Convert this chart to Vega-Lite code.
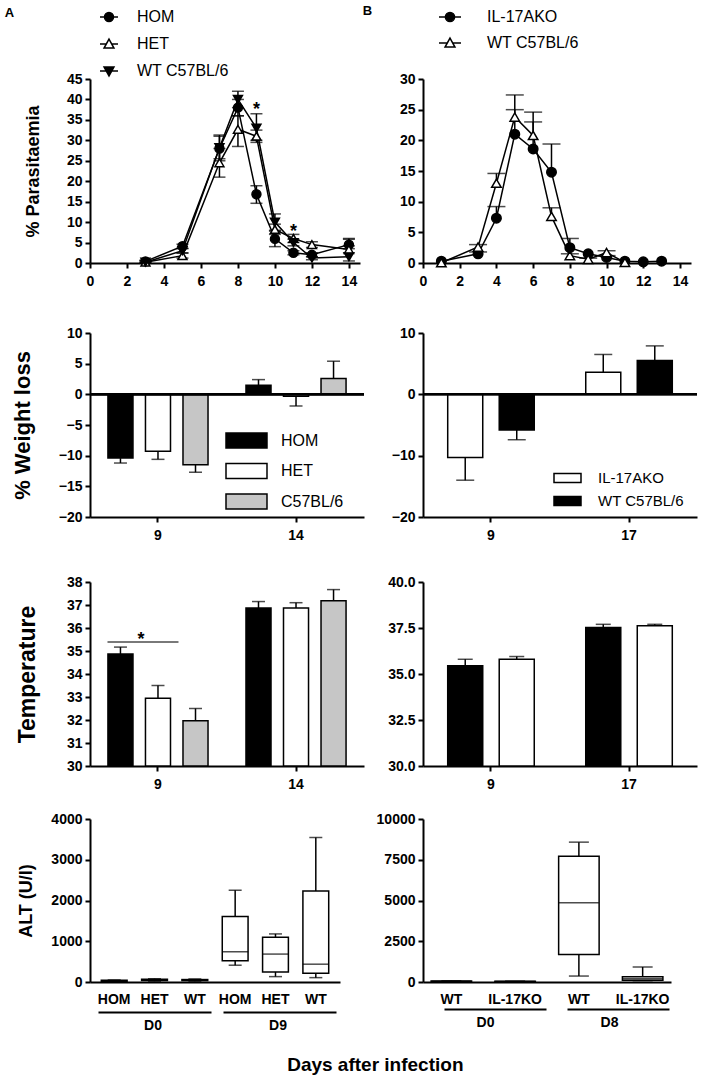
{
  "$schema": "https://vega.github.io/schema/vega-lite/v6.json",
  "padding": {"left": 4, "top": 5, "right": 5, "bottom": 5},
  "title": {"text": "Days after infection", "orient": "bottom", "anchor": "middle", "fontSize": 19, "fontWeight": "bold", "offset": 24, "dx": 24, "color": "black"},
  "datasets": {
    "para_a": [
      {"day": 3, "g": "HOM", "v": 0.4, "lo": 0.1, "hi": 0.7},
      {"day": 5, "g": "HOM", "v": 4.1, "lo": 3.6, "hi": 4.6},
      {"day": 7, "g": "HOM", "v": 28, "lo": 25, "hi": 31.3},
      {"day": 8, "g": "HOM", "v": 38, "lo": 36, "hi": 40},
      {"day": 9, "g": "HOM", "v": 16.8, "lo": 14.6, "hi": 18.9},
      {"day": 10, "g": "HOM", "v": 5.9, "lo": 4, "hi": 7.8},
      {"day": 11, "g": "HOM", "v": 2.5, "lo": 2, "hi": 3},
      {"day": 12, "g": "HOM", "v": 2, "lo": 1.5, "hi": 2.5},
      {"day": 14, "g": "HOM", "v": 4.5, "lo": 3.5, "hi": 5.8},
      {"day": 3, "g": "HET", "v": 0.2, "lo": 0, "hi": 0.5},
      {"day": 5, "g": "HET", "v": 1.8, "lo": 1.2, "hi": 2.4},
      {"day": 7, "g": "HET", "v": 24.5, "lo": 21, "hi": 28},
      {"day": 8, "g": "HET", "v": 32.7, "lo": 28.5, "hi": 36},
      {"day": 9, "g": "HET", "v": 31, "lo": 29.5, "hi": 32.5},
      {"day": 10, "g": "HET", "v": 8.2, "lo": 7, "hi": 9.5},
      {"day": 11, "g": "HET", "v": 6, "lo": 5, "hi": 7},
      {"day": 12, "g": "HET", "v": 4.5, "lo": 3.8, "hi": 5.2},
      {"day": 14, "g": "HET", "v": 3.3, "lo": 2.5, "hi": 4.2},
      {"day": 3, "g": "WT C57BL/6", "v": 0.2, "lo": 0, "hi": 0.5},
      {"day": 5, "g": "WT C57BL/6", "v": 3, "lo": 2.5, "hi": 3.5},
      {"day": 7, "g": "WT C57BL/6", "v": 28.2, "lo": 25.5, "hi": 31},
      {"day": 8, "g": "WT C57BL/6", "v": 40, "lo": 38, "hi": 42},
      {"day": 9, "g": "WT C57BL/6", "v": 33, "lo": 30, "hi": 36.5},
      {"day": 10, "g": "WT C57BL/6", "v": 10, "lo": 8, "hi": 12},
      {"day": 11, "g": "WT C57BL/6", "v": 5, "lo": 4.2, "hi": 5.8},
      {"day": 12, "g": "WT C57BL/6", "v": 1.2, "lo": 0.8, "hi": 1.6},
      {"day": 14, "g": "WT C57BL/6", "v": 1.5, "lo": 0.5, "hi": 6}
    ],
    "para_b": [
      {"day": 1, "g": "IL-17AKO", "v": 0.3, "hi": 0.3},
      {"day": 3, "g": "IL-17AKO", "v": 1.5, "hi": 1.8},
      {"day": 4, "g": "IL-17AKO", "v": 7.3, "hi": 9.2},
      {"day": 5, "g": "IL-17AKO", "v": 21, "hi": 25},
      {"day": 6, "g": "IL-17AKO", "v": 18.6, "hi": 23},
      {"day": 7, "g": "IL-17AKO", "v": 14.8, "hi": 19.4},
      {"day": 8, "g": "IL-17AKO", "v": 2.5, "hi": 4},
      {"day": 9, "g": "IL-17AKO", "v": 1.5, "hi": 1.5},
      {"day": 10, "g": "IL-17AKO", "v": 0.9, "hi": 1.2},
      {"day": 11, "g": "IL-17AKO", "v": 0.3, "hi": 0.3},
      {"day": 12, "g": "IL-17AKO", "v": 0.2, "hi": 0.2},
      {"day": 13, "g": "IL-17AKO", "v": 0.3, "hi": 0.3},
      {"day": 1, "g": "WT C57BL/6", "v": 0.05, "hi": 0.05},
      {"day": 3, "g": "WT C57BL/6", "v": 2.6, "hi": 3},
      {"day": 4, "g": "WT C57BL/6", "v": 13, "hi": 14.6},
      {"day": 5, "g": "WT C57BL/6", "v": 23.8, "hi": 27.4},
      {"day": 6, "g": "WT C57BL/6", "v": 20.8, "hi": 24.6},
      {"day": 7, "g": "WT C57BL/6", "v": 7.6, "hi": 9},
      {"day": 8, "g": "WT C57BL/6", "v": 1.2, "hi": 1.5},
      {"day": 9, "g": "WT C57BL/6", "v": 0.6, "hi": 0.8},
      {"day": 10, "g": "WT C57BL/6", "v": 1.7, "hi": 2},
      {"day": 11, "g": "WT C57BL/6", "v": 0.1, "hi": 0.1}
    ],
    "star_a": [{"day": 9, "v": 38.6}, {"day": 11, "v": 8.9}],
    "wl_a": [
      {"day": "9", "g": "HOM", "v": -10.4, "e": -11.2},
      {"day": "9", "g": "HET", "v": -9.3, "e": -10.6},
      {"day": "9", "g": "C57BL/6", "v": -11.5, "e": -12.7},
      {"day": "14", "g": "HOM", "v": 1.5, "e": 2.4},
      {"day": "14", "g": "HET", "v": -0.3, "e": -1.9},
      {"day": "14", "g": "C57BL/6", "v": 2.6, "e": 5.4}
    ],
    "wl_b": [
      {"day": "9", "g": "IL-17AKO", "v": -10.3, "e": -14.0},
      {"day": "9", "g": "WT C57BL/6", "v": -5.8, "e": -7.4},
      {"day": "17", "g": "IL-17AKO", "v": 3.6, "e": 6.5},
      {"day": "17", "g": "WT C57BL/6", "v": 5.5, "e": 7.9}
    ],
    "temp_a": [
      {"day": "9", "g": "HOM", "v": 34.87, "e": 35.17},
      {"day": "9", "g": "HET", "v": 32.95, "e": 33.5},
      {"day": "9", "g": "C57BL/6", "v": 31.97, "e": 32.5},
      {"day": "14", "g": "HOM", "v": 36.87, "e": 37.15},
      {"day": "14", "g": "HET", "v": 36.87, "e": 37.1},
      {"day": "14", "g": "C57BL/6", "v": 37.18, "e": 37.67}
    ],
    "sig_a": [{"day": "9", "v": 35.39}],
    "temp_b": [
      {"day": "9", "g": "WT C57BL/6", "v": 35.45, "e": 35.8},
      {"day": "9", "g": "IL-17AKO", "v": 35.8, "e": 35.95},
      {"day": "17", "g": "WT C57BL/6", "v": 37.53, "e": 37.7},
      {"day": "17", "g": "IL-17AKO", "v": 37.62, "e": 37.7}
    ],
    "alt_a": [
      {"box": "D0 HOM", "day": "D0", "min": 10, "q1": 20, "med": 30, "q3": 40, "max": 50},
      {"box": "D0 HET", "day": "D0", "min": 20, "q1": 35, "med": 50, "q3": 65, "max": 80},
      {"box": "D0 WT", "day": "D0", "min": 20, "q1": 35, "med": 45, "q3": 60, "max": 75},
      {"box": "D9 HOM", "day": "D9", "min": 412, "q1": 520, "med": 742, "q3": 1608, "max": 2252},
      {"box": "D9 HET", "day": "D9", "min": 132, "q1": 247, "med": 685, "q3": 1097, "max": 1180},
      {"box": "D9 WT", "day": "D9", "min": 107, "q1": 214, "med": 437, "q3": 2235, "max": 3546}
    ],
    "alt_b": [
      {"box": "D0 WT", "day": "D0", "min": 20, "q1": 30, "med": 45, "q3": 60, "max": 75},
      {"box": "D0 IL-17KO", "day": "D0", "min": 15, "q1": 25, "med": 35, "q3": 45, "max": 55},
      {"box": "D8 WT", "day": "D8", "min": 365, "q1": 1684, "med": 4868, "q3": 7708, "max": 8580},
      {"box": "D8 IL-17KO", "day": "D8", "min": 80, "q1": 110, "med": 200, "q3": 320, "max": 920}
    ]
  },
  "columns": 2,
  "align": "each",
  "spacing": {"row": 21, "column": -3},
  "resolve": {
    "scale": {"fill": "independent", "shape": "independent", "stroke": "independent", "xOffset": "independent"},
    "legend": {"fill": "independent", "shape": "independent", "stroke": "independent"}
  },
  "concat": [
    {
      "width": 270,
      "height": 184,
      "title": {"text": "A", "orient": "left", "anchor": "end", "angle": 0, "align": "right", "baseline": "top", "offset": 1, "fontSize": 13, "fontWeight": "bold", "color": "black"},
      "data": {"name": "para_a"},
      "layer": [
        {
          "transform": [{"filter": "datum.day < 0"}],
          "mark": {"type": "point", "filled": true, "opacity": 1, "strokeWidth": 1.5},
          "encoding": {
            "shape": {
              "field": "g", "type": "nominal",
              "scale": {"domain": ["HOM", "HET", "WT C57BL/6"], "range": ["M-1,0H-0.5M0.5,0H1M0.5,0A0.5,0.5,0,1,1,-0.5,0A0.5,0.5,0,1,1,0.5,0Z", "M-1,0H-0.3M0.3,0H1M0,-0.55L0.55,0.45L-0.55,0.45Z", "M-1,0H-0.3M0.3,0H1M-0.55,-0.45L0.55,-0.45L0,0.55Z"]},
              "legend": {"orient": "none", "legendX": 9, "legendY": -72, "title": null, "padding": 0, "symbolSize": 324, "symbolStrokeWidth": 1.5, "labelFontSize": 16, "labelFontWeight": "normal", "labelColor": "black", "labelOffset": 18, "rowPadding": 9}
            },
            "fill": {
              "field": "g", "type": "nominal",
              "scale": {"domain": ["HOM", "HET", "WT C57BL/6"], "range": ["black", "white", "black"]},
              "legend": {"orient": "none", "legendX": 9, "legendY": -72, "title": null, "padding": 0, "symbolSize": 324, "symbolStrokeWidth": 1.5, "labelFontSize": 16, "labelFontWeight": "normal", "labelColor": "black", "labelOffset": 18, "rowPadding": 9}
            },
            "stroke": {
              "field": "g", "type": "nominal",
              "scale": {"domain": ["HOM", "HET", "WT C57BL/6"], "range": ["black", "black", "black"]},
              "legend": {"orient": "none", "legendX": 9, "legendY": -72, "title": null, "padding": 0, "symbolSize": 324, "symbolStrokeWidth": 1.5, "labelFontSize": 16, "labelFontWeight": "normal", "labelColor": "black", "labelOffset": 18, "rowPadding": 9}
            }
          }
        },
        {
          "mark": {"type": "line", "color": "black", "strokeWidth": 1.5},
          "encoding": {
            "x": {"field": "day", "type": "quantitative", "scale": {"domain": [0, 14.6], "nice": false}, "axis": {"values": [0, 2, 4, 6, 8, 10, 12, 14], "tickCount": 20, "labelOverlap": false, "title": " ", "titleFontSize": 10, "titlePadding": 7, "labelPadding": 6}},
            "y": {"field": "v", "type": "quantitative", "scale": {"domain": [0, 45]}, "axis": {"values": [0, 5, 10, 15, 20, 25, 30, 35, 40, 45], "tickCount": 20, "labelOverlap": false, "title": "% Parasitaemia", "titleFontSize": 18, "titlePadding": 24}},
            "detail": {"field": "g"}
          }
        },
        {
          "mark": {"type": "rule", "color": "black", "strokeWidth": 1.5},
          "encoding": {
            "x": {"field": "day", "type": "quantitative"},
            "y": {"field": "lo", "type": "quantitative"},
            "y2": {"field": "hi"}
          }
        },
        {
          "mark": {"type": "tick", "orient": "horizontal", "size": 12, "thickness": 1.5, "color": "black"},
          "encoding": {
            "x": {"field": "day", "type": "quantitative"},
            "y": {"field": "hi", "type": "quantitative"}
          }
        },
        {
          "mark": {"type": "tick", "orient": "horizontal", "size": 12, "thickness": 1.5, "color": "black"},
          "encoding": {
            "x": {"field": "day", "type": "quantitative"},
            "y": {"field": "lo", "type": "quantitative"}
          }
        },
        {
          "mark": {"type": "point", "filled": true, "size": 80, "stroke": "black", "strokeWidth": 1.5, "opacity": 1},
          "encoding": {
            "x": {"field": "day", "type": "quantitative"},
            "y": {"field": "v", "type": "quantitative"},
            "shape": {"field": "g", "type": "nominal", "scale": {"domain": ["HOM", "HET", "WT C57BL/6"], "range": ["circle", "triangle-up", "triangle-down"]}, "legend": null},
            "fill": {"condition": {"test": "datum.g === 'HET'", "value": "white"}, "value": "black"}
          }
        },
        {
          "data": {"name": "star_a"},
          "mark": {"type": "text", "text": "*", "fontSize": 18, "fontWeight": "bold", "dy": 5, "color": "black"},
          "encoding": {
            "x": {"field": "day", "type": "quantitative"},
            "y": {"field": "v", "type": "quantitative"}
          }
        }
      ],
      "resolve": {"scale": {"shape": "independent", "fill": "independent", "stroke": "independent"}}
    },
    {
      "width": 268,
      "height": 184,
      "title": {"text": "B", "orient": "left", "anchor": "end", "angle": 0, "align": "right", "baseline": "top", "offset": 18, "fontSize": 13, "fontWeight": "bold", "color": "black"},
      "data": {"name": "para_b"},
      "layer": [
        {
          "transform": [{"filter": "datum.day < 0"}],
          "mark": {"type": "point", "filled": true, "opacity": 1, "strokeWidth": 1.5},
          "encoding": {
            "shape": {
              "field": "g", "type": "nominal",
              "scale": {"domain": ["IL-17AKO", "WT C57BL/6"], "range": ["M-1,0H-0.42M0.42,0H1M0.42,0A0.42,0.42,0,1,1,-0.42,0A0.42,0.42,0,1,1,0.42,0Z", "M-1,0H-0.25M0.25,0H1M0,-0.45L0.45,0.37L-0.45,0.37Z"]},
              "legend": {"orient": "none", "legendX": 15, "legendY": -74, "title": null, "padding": 0, "symbolSize": 484, "symbolStrokeWidth": 1.5, "labelFontSize": 16, "labelFontWeight": "normal", "labelColor": "black", "labelOffset": 25, "rowPadding": 6}
            },
            "fill": {
              "field": "g", "type": "nominal",
              "scale": {"domain": ["IL-17AKO", "WT C57BL/6"], "range": ["black", "white"]},
              "legend": {"orient": "none", "legendX": 15, "legendY": -74, "title": null, "padding": 0, "symbolSize": 484, "symbolStrokeWidth": 1.5, "labelFontSize": 16, "labelFontWeight": "normal", "labelColor": "black", "labelOffset": 25, "rowPadding": 6}
            },
            "stroke": {
              "field": "g", "type": "nominal",
              "scale": {"domain": ["IL-17AKO", "WT C57BL/6"], "range": ["black", "black"]},
              "legend": {"orient": "none", "legendX": 15, "legendY": -74, "title": null, "padding": 0, "symbolSize": 484, "symbolStrokeWidth": 1.5, "labelFontSize": 16, "labelFontWeight": "normal", "labelColor": "black", "labelOffset": 25, "rowPadding": 6}
            }
          }
        },
        {
          "mark": {"type": "line", "color": "black", "strokeWidth": 1.5},
          "encoding": {
            "x": {"field": "day", "type": "quantitative", "scale": {"domain": [0, 14.6], "nice": false}, "axis": {"values": [0, 2, 4, 6, 8, 10, 12, 14], "tickCount": 20, "labelOverlap": false, "title": " ", "titleFontSize": 10, "titlePadding": 7, "labelPadding": 6}},
            "y": {"field": "v", "type": "quantitative", "scale": {"domain": [0, 30]}, "axis": {"values": [0, 5, 10, 15, 20, 25, 30], "tickCount": 20, "labelOverlap": false, "title": null}},
            "detail": {"field": "g"}
          }
        },
        {
          "transform": [{"filter": "datum.hi > datum.v"}],
          "mark": {"type": "rule", "color": "black", "strokeWidth": 1.5},
          "encoding": {
            "x": {"field": "day", "type": "quantitative"},
            "y": {"field": "v", "type": "quantitative"},
            "y2": {"field": "hi"}
          }
        },
        {
          "transform": [{"filter": "datum.hi > datum.v"}],
          "mark": {"type": "tick", "orient": "horizontal", "size": 18, "thickness": 1.5, "color": "black"},
          "encoding": {
            "x": {"field": "day", "type": "quantitative"},
            "y": {"field": "hi", "type": "quantitative"}
          }
        },
        {
          "mark": {"type": "point", "filled": true, "size": 90, "stroke": "black", "strokeWidth": 1.5, "opacity": 1},
          "encoding": {
            "x": {"field": "day", "type": "quantitative"},
            "y": {"field": "v", "type": "quantitative"},
            "shape": {"field": "g", "type": "nominal", "scale": {"domain": ["IL-17AKO", "WT C57BL/6"], "range": ["circle", "triangle-up"]}, "legend": null},
            "fill": {"condition": {"test": "datum.g === 'WT C57BL/6'", "value": "white"}, "value": "black"}
          }
        }
      ],
      "resolve": {"scale": {"shape": "independent", "fill": "independent", "stroke": "independent"}}
    },
    {
      "width": 274,
      "height": 184,
      "data": {"name": "wl_a"},
      "layer": [
        {
          "mark": {"type": "rule", "color": "black", "strokeWidth": 1.5},
          "encoding": {
            "x": {"field": "day", "type": "nominal", "sort": ["9", "14"], "scale": {"paddingInner": 0.275, "paddingOuter": 0.13}, "axis": {"title": " ", "titleFontSize": 10, "titlePadding": 2, "labelAngle": 0, "labelPadding": 6}},
            "xOffset": {"field": "g", "type": "nominal", "sort": ["HOM", "HET", "C57BL/6"], "scale": {"paddingInner": 0.333, "paddingOuter": 0}},
            "y": {"field": "v", "type": "quantitative", "scale": {"domain": [-20, 10]}, "axis": {"values": [-20, -15, -10, -5, 0, 5, 10], "tickCount": 20, "labelOverlap": false, "title": "% Weight loss", "titleFontSize": 22, "titlePadding": 24}},
            "y2": {"field": "e"}
          }
        },
        {
          "mark": {"type": "tick", "orient": "horizontal", "size": 13, "thickness": 1.5, "color": "black"},
          "encoding": {
            "x": {"field": "day", "type": "nominal", "sort": ["9", "14"]},
            "xOffset": {"field": "g", "type": "nominal", "sort": ["HOM", "HET", "C57BL/6"]},
            "y": {"field": "e", "type": "quantitative"}
          }
        },
        {
          "mark": {"type": "bar", "stroke": "black", "strokeWidth": 1.5},
          "encoding": {
            "x": {"field": "day", "type": "nominal", "sort": ["9", "14"]},
            "xOffset": {"field": "g", "type": "nominal", "sort": ["HOM", "HET", "C57BL/6"]},
            "y": {"field": "v", "type": "quantitative"},
            "fill": {
              "field": "g", "type": "nominal",
              "scale": {"domain": ["HOM", "HET", "C57BL/6"], "range": ["black", "white", "#c6c6c6"]},
              "legend": {"orient": "none", "legendX": 148, "legendY": 99, "title": null, "padding": 0, "symbolType": "M-2.733,-1H2.733V1H-2.733Z", "symbolSize": 225, "symbolStrokeColor": "black", "symbolStrokeWidth": 1.5, "labelFontSize": 16, "labelFontWeight": "normal", "labelColor": "black", "labelOffset": 26, "rowPadding": 9.5}
            }
          }
        },
        {
          "mark": {"type": "rule", "color": "black", "strokeWidth": 2},
          "encoding": {"y": {"datum": 0}}
        }
      ]
    },
    {
      "width": 274,
      "height": 184,
      "data": {"name": "wl_b"},
      "layer": [
        {
          "mark": {"type": "rule", "color": "black", "strokeWidth": 1.5},
          "encoding": {
            "x": {"field": "day", "type": "nominal", "sort": ["9", "17"], "scale": {"paddingInner": 0.373, "paddingOuter": 0.179}, "axis": {"title": " ", "titleFontSize": 10, "titlePadding": 2, "labelAngle": 0, "labelPadding": 6}},
            "xOffset": {"field": "g", "type": "nominal", "sort": ["IL-17AKO", "WT C57BL/6"], "scale": {"paddingInner": 0.32, "paddingOuter": 0}},
            "y": {"field": "v", "type": "quantitative", "scale": {"domain": [-20, 10]}, "axis": {"values": [-20, -10, 0, 10], "tickCount": 20, "labelOverlap": false, "title": null}},
            "y2": {"field": "e"}
          }
        },
        {
          "mark": {"type": "tick", "orient": "horizontal", "size": 18, "thickness": 1.5, "color": "black"},
          "encoding": {
            "x": {"field": "day", "type": "nominal", "sort": ["9", "17"]},
            "xOffset": {"field": "g", "type": "nominal", "sort": ["IL-17AKO", "WT C57BL/6"]},
            "y": {"field": "e", "type": "quantitative"}
          }
        },
        {
          "mark": {"type": "bar", "stroke": "black", "strokeWidth": 1.5},
          "encoding": {
            "x": {"field": "day", "type": "nominal", "sort": ["9", "17"]},
            "xOffset": {"field": "g", "type": "nominal", "sort": ["IL-17AKO", "WT C57BL/6"]},
            "y": {"field": "v", "type": "quantitative"},
            "fill": {
              "field": "g", "type": "nominal",
              "scale": {"domain": ["IL-17AKO", "WT C57BL/6"], "range": ["white", "black"]},
              "legend": {"orient": "none", "legendX": 137, "legendY": 137.5, "title": null, "padding": 0, "symbolType": "M-3,-1H3V1H-3Z", "symbolSize": 81, "symbolStrokeColor": "black", "symbolStrokeWidth": 1.5, "labelFontSize": 15, "labelFontWeight": "normal", "labelColor": "black", "labelOffset": 23, "rowPadding": 7}
            }
          }
        },
        {
          "mark": {"type": "rule", "color": "black", "strokeWidth": 2},
          "encoding": {"y": {"datum": 0}}
        }
      ]
    },
    {
      "width": 274,
      "height": 184,
      "data": {"name": "temp_a"},
      "layer": [
        {
          "mark": {"type": "rule", "color": "black", "strokeWidth": 1.5},
          "encoding": {
            "x": {"field": "day", "type": "nominal", "sort": ["9", "14"], "scale": {"paddingInner": 0.275, "paddingOuter": 0.13}, "axis": {"title": null, "labelAngle": 0, "labelPadding": 6}},
            "xOffset": {"field": "g", "type": "nominal", "sort": ["HOM", "HET", "C57BL/6"], "scale": {"paddingInner": 0.333, "paddingOuter": 0}},
            "y": {"field": "v", "type": "quantitative", "scale": {"domain": [30, 38]}, "axis": {"values": [30, 31, 32, 33, 34, 35, 36, 37, 38], "tickCount": 20, "format": "d", "labelOverlap": false, "title": "Temperature", "titleFontSize": 23, "titlePadding": 27}},
            "y2": {"field": "e"}
          }
        },
        {
          "mark": {"type": "tick", "orient": "horizontal", "size": 13, "thickness": 1.5, "color": "black"},
          "encoding": {
            "x": {"field": "day", "type": "nominal", "sort": ["9", "14"]},
            "xOffset": {"field": "g", "type": "nominal", "sort": ["HOM", "HET", "C57BL/6"]},
            "y": {"field": "e", "type": "quantitative"}
          }
        },
        {
          "mark": {"type": "bar", "stroke": "black", "strokeWidth": 1.5},
          "encoding": {
            "x": {"field": "day", "type": "nominal", "sort": ["9", "14"]},
            "xOffset": {"field": "g", "type": "nominal", "sort": ["HOM", "HET", "C57BL/6"]},
            "y": {"field": "v", "type": "quantitative"},
            "y2": {"datum": 30},
            "fill": {"field": "g", "type": "nominal", "scale": {"domain": ["HOM", "HET", "C57BL/6"], "range": ["black", "white", "#c6c6c6"]}, "legend": null}
          }
        },
        {
          "data": {"name": "sig_a"},
          "mark": {"type": "tick", "orient": "horizontal", "size": 71, "thickness": 1.5, "color": "black", "xOffset": -15},
          "encoding": {
            "x": {"field": "day", "type": "nominal", "sort": ["9", "14"]},
            "y": {"field": "v", "type": "quantitative"}
          }
        },
        {
          "data": {"name": "sig_a"},
          "mark": {"type": "text", "text": "*", "fontSize": 18, "fontWeight": "bold", "color": "black", "dx": -17, "dy": -2},
          "encoding": {
            "x": {"field": "day", "type": "nominal", "sort": ["9", "14"]},
            "y": {"field": "v", "type": "quantitative"}
          }
        }
      ]
    },
    {
      "width": 274,
      "height": 184,
      "data": {"name": "temp_b"},
      "layer": [
        {
          "mark": {"type": "rule", "color": "black", "strokeWidth": 1.5},
          "encoding": {
            "x": {"field": "day", "type": "nominal", "sort": ["9", "17"], "scale": {"paddingInner": 0.373, "paddingOuter": 0.179}, "axis": {"title": null, "labelAngle": 0, "labelPadding": 6}},
            "xOffset": {"field": "g", "type": "nominal", "sort": ["WT C57BL/6", "IL-17AKO"], "scale": {"paddingInner": 0.32, "paddingOuter": 0}},
            "y": {"field": "v", "type": "quantitative", "scale": {"domain": [30, 40]}, "axis": {"values": [30, 32.5, 35, 37.5, 40], "tickCount": 20, "format": ".1f", "labelOverlap": false, "title": null}},
            "y2": {"field": "e"}
          }
        },
        {
          "mark": {"type": "tick", "orient": "horizontal", "size": 15, "thickness": 1.5, "color": "black"},
          "encoding": {
            "x": {"field": "day", "type": "nominal", "sort": ["9", "17"]},
            "xOffset": {"field": "g", "type": "nominal", "sort": ["WT C57BL/6", "IL-17AKO"]},
            "y": {"field": "e", "type": "quantitative"}
          }
        },
        {
          "mark": {"type": "bar", "stroke": "black", "strokeWidth": 1.5},
          "encoding": {
            "x": {"field": "day", "type": "nominal", "sort": ["9", "17"]},
            "xOffset": {"field": "g", "type": "nominal", "sort": ["WT C57BL/6", "IL-17AKO"]},
            "y": {"field": "v", "type": "quantitative"},
            "y2": {"datum": 30},
            "fill": {"field": "g", "type": "nominal", "scale": {"domain": ["IL-17AKO", "WT C57BL/6"], "range": ["white", "black"]}, "legend": null}
          }
        }
      ]
    },
    {
      "width": 250,
      "height": 163,
      "data": {"name": "alt_a"},
      "layer": [
        {
          "encoding": {
            "x": {"field": "box", "type": "nominal", "sort": ["D0 HOM", "D0 HET", "D0 WT", "D9 HOM", "D9 HET", "D9 WT"], "scale": {"paddingInner": 0.36, "paddingOuter": 0.28}, "axis": {"orient": "bottom", "labelExpr": "split(datum.label, ' ')[1]", "ticks": false, "labelAngle": 0, "labelPadding": 10, "title": null}}
          },
          "layer": [
            {
              "mark": {"type": "rule", "color": "black", "strokeWidth": 1.5},
              "encoding": {
                "y": {"field": "min", "type": "quantitative", "scale": {"domain": [0, 4000]}, "axis": {"values": [0, 1000, 2000, 3000, 4000], "tickCount": 20, "format": "d", "labelOverlap": false, "title": "ALT (U/l)", "titleFontSize": 18, "titlePadding": 15}},
                "y2": {"field": "max"}
              }
            },
            {
              "mark": {"type": "bar", "fill": "white", "stroke": "black", "strokeWidth": 1.5},
              "encoding": {"y": {"field": "q1", "type": "quantitative"}, "y2": {"field": "q3"}}
            },
            {
              "mark": {"type": "tick", "orient": "horizontal", "size": 26, "thickness": 1.5, "color": "black"},
              "encoding": {"y": {"field": "med", "type": "quantitative"}}
            },
            {
              "mark": {"type": "tick", "orient": "horizontal", "size": 13, "thickness": 1.5, "color": "black"},
              "encoding": {"y": {"field": "max", "type": "quantitative"}}
            },
            {
              "mark": {"type": "tick", "orient": "horizontal", "size": 13, "thickness": 1.5, "color": "black"},
              "encoding": {"y": {"field": "min", "type": "quantitative"}}
            }
          ]
        },
        {
          "mark": {"type": "point", "opacity": 0},
          "encoding": {
            "x": {"field": "day", "type": "nominal", "sort": ["D0", "D9"], "scale": {"paddingInner": 0, "paddingOuter": 0}, "axis": {"orient": "bottom", "offset": 30, "ticks": false, "domainDash": [113, 12], "domainDashOffset": 117, "labelAngle": 0, "labelPadding": 6, "title": null}},
            "y": {"field": "med", "type": "quantitative"}
          }
        }
      ],
      "resolve": {"scale": {"x": "independent"}}
    },
    {
      "width": 248,
      "height": 163,
      "data": {"name": "alt_b"},
      "layer": [
        {
          "encoding": {
            "x": {"field": "box", "type": "nominal", "sort": ["D0 WT", "D0 IL-17KO", "D8 WT", "D8 IL-17KO"], "scale": {"paddingInner": 0.365, "paddingOuter": 0.127}, "axis": {"orient": "bottom", "labelExpr": "split(datum.label, ' ')[1]", "ticks": false, "labelAngle": 0, "labelPadding": 10, "title": null}}
          },
          "layer": [
            {
              "mark": {"type": "rule", "color": "black", "strokeWidth": 1.5},
              "encoding": {
                "y": {"field": "min", "type": "quantitative", "scale": {"domain": [0, 10000]}, "axis": {"values": [0, 2500, 5000, 7500, 10000], "tickCount": 20, "format": "d", "labelOverlap": false, "title": null}},
                "y2": {"field": "max"}
              }
            },
            {
              "mark": {"type": "bar", "fill": "white", "stroke": "black", "strokeWidth": 1.5},
              "encoding": {"y": {"field": "q1", "type": "quantitative"}, "y2": {"field": "q3"}}
            },
            {
              "mark": {"type": "tick", "orient": "horizontal", "size": 40, "thickness": 1.5, "color": "black"},
              "encoding": {"y": {"field": "med", "type": "quantitative"}}
            },
            {
              "mark": {"type": "tick", "orient": "horizontal", "size": 20, "thickness": 1.5, "color": "black"},
              "encoding": {"y": {"field": "max", "type": "quantitative"}}
            },
            {
              "mark": {"type": "tick", "orient": "horizontal", "size": 20, "thickness": 1.5, "color": "black"},
              "encoding": {"y": {"field": "min", "type": "quantitative"}}
            }
          ]
        },
        {
          "mark": {"type": "point", "opacity": 0},
          "encoding": {
            "x": {"field": "day", "type": "nominal", "sort": ["D0", "D8"], "scale": {"paddingInner": 0, "paddingOuter": 0}, "axis": {"orient": "bottom", "offset": 27, "ticks": false, "domainDash": [102, 21], "domainDashOffset": 102, "labelAngle": 0, "labelPadding": 6, "title": null}},
            "y": {"field": "med", "type": "quantitative"}
          }
        }
      ],
      "resolve": {"scale": {"x": "independent"}}
    }
  ],
  "config": {
    "font": "Liberation Sans",
    "view": {"stroke": null},
    "axis": {
      "grid": false,
      "domainColor": "black",
      "domainWidth": 2,
      "tickColor": "black",
      "tickWidth": 2,
      "tickSize": 5,
      "labelFont": "Liberation Sans",
      "labelFontSize": 14,
      "labelFontWeight": "bold",
      "labelColor": "black",
      "labelPadding": 3,
      "labelFlush": false,
      "labelOverlap": false,
      "titleFont": "Liberation Sans",
      "titleFontWeight": "bold",
      "titleColor": "black"
    },
    "legend": {"labelFont": "Liberation Sans"},
    "title": {"font": "Liberation Sans"}
  }
}
